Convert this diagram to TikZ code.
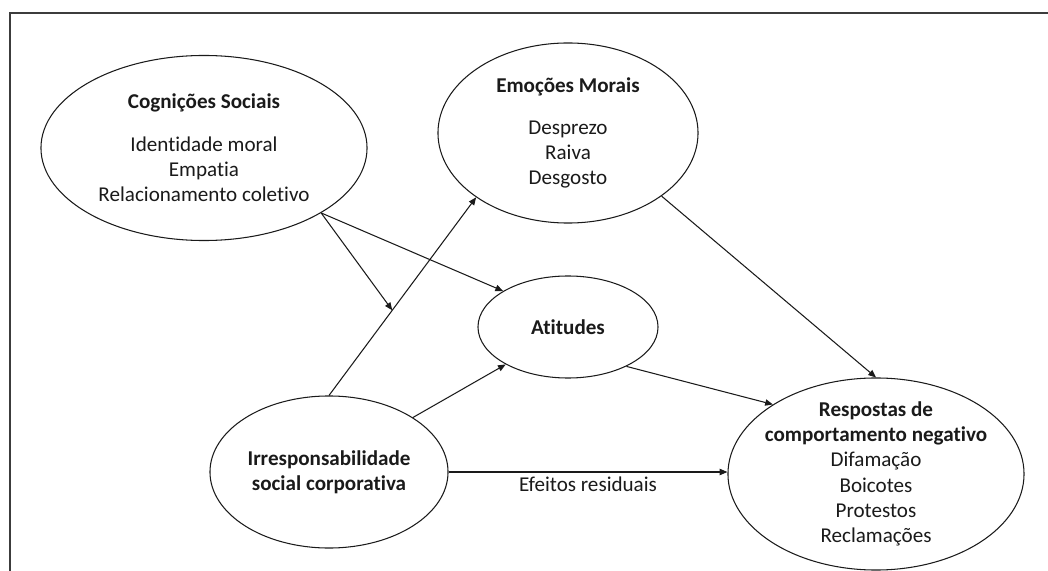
\documentclass[tikz,border=0pt]{standalone}
\usepackage{fontspec}
\setmainfont{Carlito}[Ligatures=NoCommon]
\usepackage{tikz}
\usetikzlibrary{arrows.meta,shapes.geometric,calc}
\definecolor{ink}{HTML}{1A1A1A}
\definecolor{framegray}{HTML}{3C3C3C}

\begin{document}
\begin{tikzpicture}[
  x=0.025cm, y=-0.025cm,
  font=\fontsize{15pt}{18pt}\selectfont,
  % negative inner sep: the minimum sizes, not the text, set each ellipse
  blob/.style={ellipse,draw=ink,line width=0.75pt,inner sep=-9pt,
    align=center,text=ink},
  link/.style={-{Triangle[length=5.5pt,width=4.5pt]},line width=0.75pt,draw=ink},
  edgelabel/.style={text=ink,inner sep=2pt}
]
  \useasboundingbox (0,0) rectangle (1048,571);
  \draw[framegray,line width=1pt] (10,571) -- (10,13) -- (1048,13);

  \node[blob,minimum width=8.15cm,minimum height=4.625cm] (cog) at (204,148)
    {\textbf{Cognições Sociais}\\[12pt]Identidade moral\\Empatia\\Relacionamento coletivo};
  \node[blob,minimum width=6.5cm,minimum height=4.5cm] (emo) at (568,133)
    {\textbf{Emoções Morais}\\[12pt]Desprezo\\Raiva\\Desgosto};
  \node[blob,minimum width=4.5cm,minimum height=2.55cm] (att) at (568,327)
    {\textbf{Atitudes}};
  \node[blob,minimum width=5.95cm,minimum height=3.8cm] (isc) at (329,472)
    {\textbf{Irresponsabilidade}\\\textbf{social corporativa}};
  \node[blob,minimum width=7.4cm,minimum height=4.8cm] (resp) at (876,474)
    {\textbf{Respostas de}\\\textbf{comportamento negativo}\\Difamação\\Boicotes\\Protestos\\Reclamações};

  \draw[link] (isc.north) -- (emo.215);
  \coordinate (mod) at ($(isc.north)!0.43!(emo.215)$);
  \draw[link] (cog.331) -- (mod);
  \draw[link] (cog.331) -- (att.151);
  \draw[link] (isc.33) -- (att.211);
  \draw[link] (att.326) -- (resp.146);
  \draw[link] (emo.326) -- (resp.north);
  \draw[link] (isc.east) -- node[edgelabel,below=1pt] {Efeitos residuais}
    (isc.east -| resp.west);
\end{tikzpicture}
\end{document}
